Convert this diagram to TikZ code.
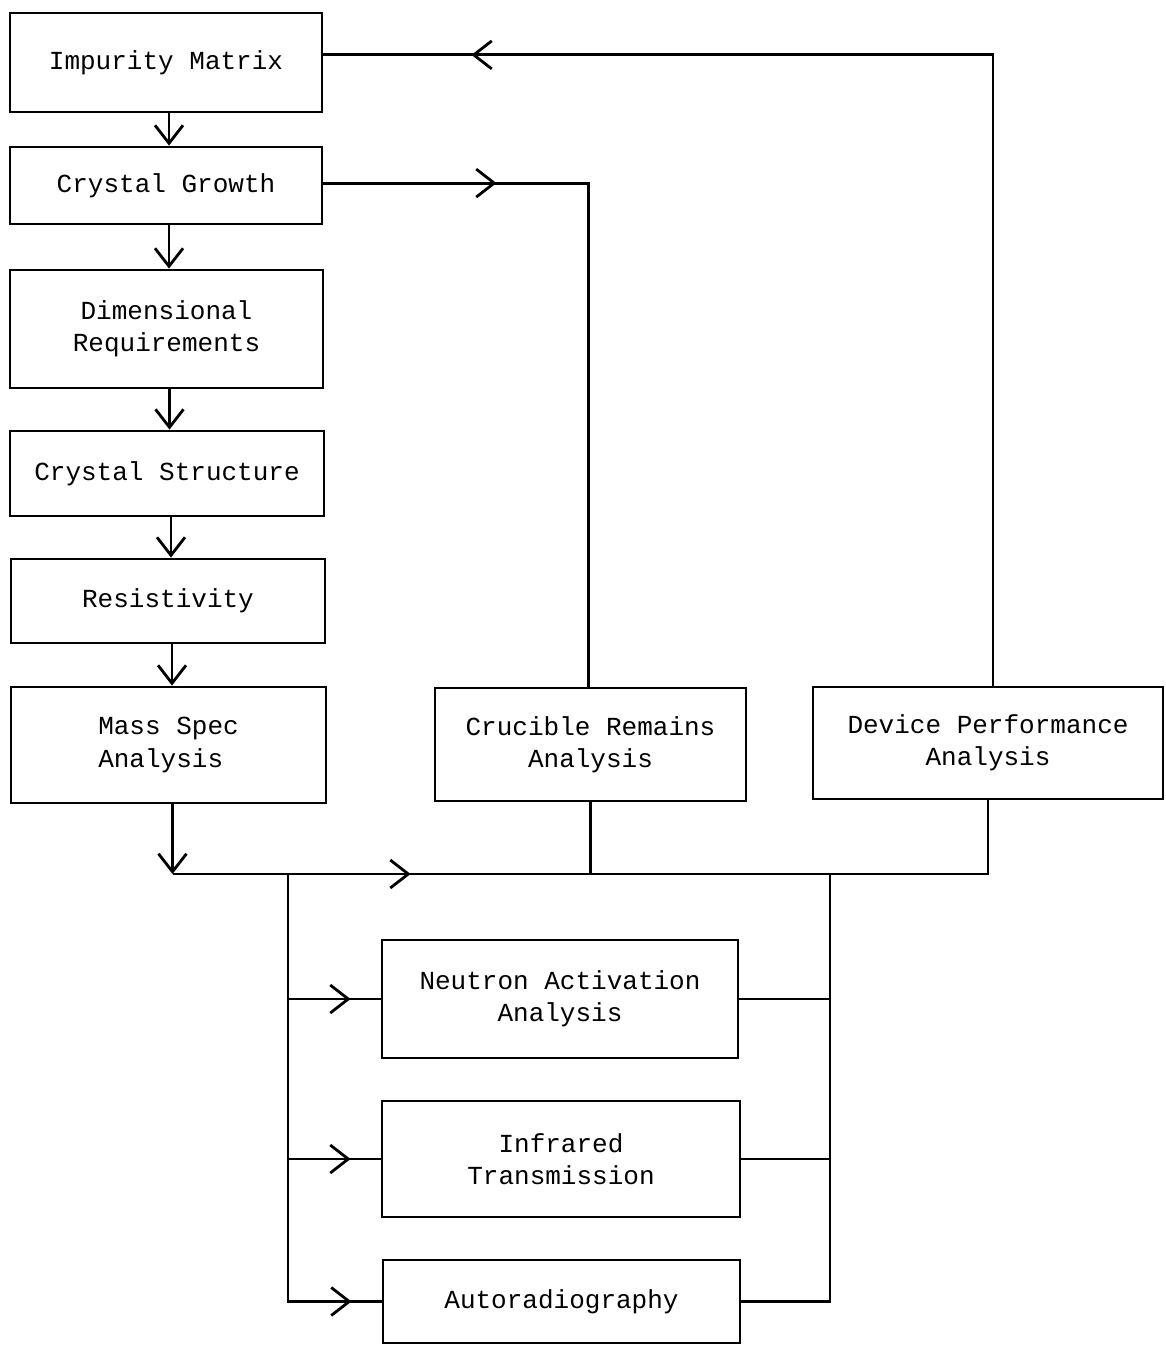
\documentclass[tikz,border=0pt]{standalone}
\usepackage{fontspec}
\setmainfont{Liberation Mono}
\usetikzlibrary{arrows.meta,decorations.markings,calc}
\tikzset{
  chev/.tip={Straight Barb[length=0.45cm,width=0.7cm,line width=2pt]},
  box/.style={draw, line width=2pt, align=center, inner sep=0pt,
    font=\fontsize{18.5}{23}\selectfont},
  conn/.style={line width=2pt},
  arrowat/.style={postaction={decorate},
    decoration={markings, mark=at position #1 with {\arrow{chev}}}}
}
\begin{document}
\begin{tikzpicture}[x=0.025cm,y=-0.025cm]
\useasboundingbox (0,0) rectangle (1165,1346);
% left column
\node[box, minimum width=7.8cm,   minimum height=2.475cm] (im) at (166,62.5) {Impurity Matrix};
\node[box, minimum width=7.8cm,   minimum height=1.925cm] (cg) at (166,185.5) {Crystal Growth};
\node[box, minimum width=7.825cm, minimum height=2.95cm]  (dr) at (166.5,329) {Dimensional\\Requirements};
\node[box, minimum width=7.85cm,  minimum height=2.125cm] (cs) at (167,473.5) {Crystal Structure};
\node[box, minimum width=7.85cm,  minimum height=2.1cm]   (rs) at (168,601) {Resistivity};
\node[box, minimum width=7.875cm, minimum height=2.9cm, align=left] (ms) at (168.5,745) {Mass Spec\\Analysis};
% middle row
\node[box, minimum width=7.775cm, minimum height=2.825cm] (cr) at (590.5,744.5) {Crucible Remains\\Analysis};
\node[box, minimum width=8.75cm,  minimum height=2.8cm]   (dp) at (988,743) {Device Performance\\Analysis};
% bottom column
\node[box, minimum width=8.9cm,   minimum height=2.95cm]  (na) at (560,999) {Neutron Activation\\Analysis};
\node[box, minimum width=8.95cm,  minimum height=2.9cm]   (ir) at (561,1159) {Infrared\\Transmission};
\node[box, minimum width=8.925cm, minimum height=2.075cm] (ar) at (561.5,1301.5) {Autoradiography};
% bus coordinates
\coordinate (busy) at (0,874);
\coordinate (lb) at (288,874);
\coordinate (rb) at (830,874);
% left column arrows
\draw[conn,-chev] ([xshift=0.075cm]im.south) -- ([xshift=0.075cm]im.south |- cg.north);
\draw[conn,-chev] ([xshift=0.075cm]cg.south) -- ([xshift=0.075cm]cg.south |- dr.north);
\draw[conn,-chev] ([xshift=0.075cm]dr.south) -- ([xshift=0.075cm]dr.south |- cs.north);
\draw[conn,-chev] ([xshift=0.1cm]cs.south) -- ([xshift=0.1cm]cs.south |- rs.north);
\draw[conn,-chev] ([xshift=0.1cm]rs.south) -- ([xshift=0.1cm]rs.south |- ms.north);
% feedback loops
\draw[conn, arrowat=-3.7cm] ([xshift=0.125cm]dp.north) |- ([yshift=0.19cm]im.east);
\draw[conn, arrowat=4.325cm] ([yshift=0.06cm]cg.east) -| ([xshift=-0.06cm]cr.north);
% bus
\draw[conn,-chev] ([xshift=0.1cm]ms.south) -- ([xshift=0.1cm]ms.south |- busy);
\draw[conn, arrowat=5.95cm] ([xshift=0.1cm]ms.south |- busy) -| (dp.south);
\draw[conn] (cr.south) -- (cr.south |- busy);
% left distribution bus
\draw[conn, arrowat=-0.75cm] (lb) |- (ar.west);
\draw[conn, arrowat=-0.75cm] (lb |- na.west) -- (na.west);
\draw[conn, arrowat=-0.75cm] (lb |- ir.west) -- (ir.west);
% right collection bus
\draw[conn] (rb) |- (ar.east);
\draw[conn] (na.east) -- (na.east -| rb);
\draw[conn] (ir.east) -- (ir.east -| rb);
\end{tikzpicture}
\end{document}
